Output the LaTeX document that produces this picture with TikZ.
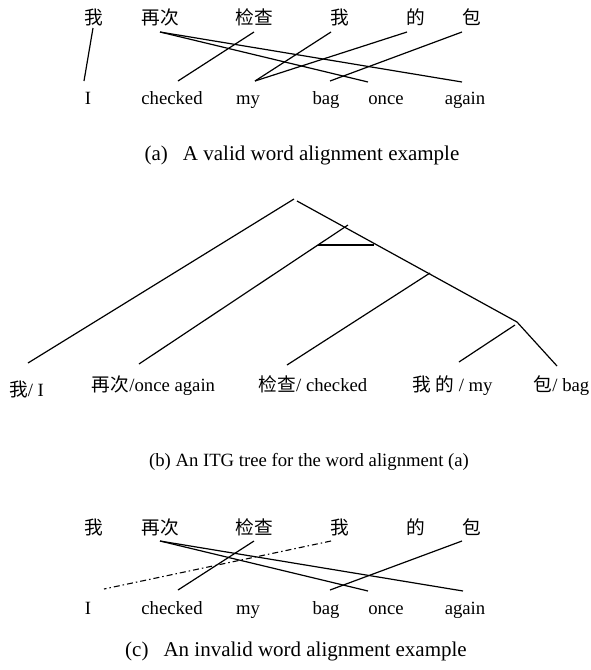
\documentclass[tikz,border=0pt]{standalone}
\usepackage{fontspec}
\setmainfont{Liberation Serif}
\newfontfamily\cjk{Noto Sans CJK SC}
\begin{document}
\begin{tikzpicture}[x=1pt,y=-1pt,
  zh/.style={font=\fontsize{18.7}{22}\selectfont\cjk, anchor=center, inner sep=0pt},
  en/.style={font=\fontsize{18.7}{22}\selectfont, anchor=base, inner sep=0pt},
  lbl/.style={font=\fontsize{18.7}{22}\selectfont, anchor=base, inner sep=0pt},
  capA/.style={font=\fontsize{21}{24}\selectfont, anchor=base, inner sep=0pt},
  capB/.style={font=\fontsize{18.7}{22}\selectfont, anchor=base, inner sep=0pt},
  link/.style={line width=1.2pt},
  badlink/.style={line width=1.1pt, dash pattern=on 6pt off 3pt on 1.5pt off 3pt}]
\useasboundingbox (0,0) rectangle (590,670);

% ---------- (a) ----------
\node[zh] (a1) at (94,17.5) {我};
\node[zh] (a2) at (160,17.5) {再次};
\node[zh] (a3) at (254,17.5) {检查};
\node[zh] (a4) at (340,17.5) {我};
\node[zh] (a5) at (416,17.5) {的};
\node[zh] (a6) at (472,17.5) {包};
\node[en] (e1) at (88,104) {I};
\node[en] (e2) at (172,104) {checked};
\node[en] (e3) at (248,104) {my};
\node[en] (e4) at (326,104) {bag};
\node[en] (e5) at (386,104) {once};
\node[en] (e6) at (465,104) {again};
\coordinate (a1s) at (93,28);  \coordinate (e1n) at (84,81);
\coordinate (a2s) at (160,32); \coordinate (e5n) at (368,82); \coordinate (e6n) at (462,82);
\coordinate (a3s) at (254,32); \coordinate (e2n) at (178,81);
\coordinate (a4s) at (331,32); \coordinate (e3n) at (255,81);
\coordinate (a5s) at (407,32);
\coordinate (a6s) at (462,32); \coordinate (e4n) at (330,81);
\draw[link] (a1s) -- (e1n);
\draw[link] (a2s) -- (e5n);
\draw[link] (a2s) -- (e6n);
\draw[link] (a3s) -- (e2n);
\draw[link] (a4s) -- (e3n);
\draw[link] (a5s) -- (e3n);
\draw[link] (a6s) -- (e4n);
\node[capA] (capa) at (302,160) {(a)\hspace{15pt}A valid word alignment example};

% ---------- (b) ----------
\coordinate (root) at (294,199);
\coordinate (rootR) at (297,201);
\coordinate (n3) at (517,322);
\coordinate (l1) at (28,363);
\coordinate (b2t) at (348,225); \coordinate (l2) at (139,364);
\coordinate (barL) at (318,245); \coordinate (barR) at (374,245);
\coordinate (b3t) at (430,273); \coordinate (l3) at (287,365);
\coordinate (b4t) at (515,325); \coordinate (l4) at (459,362);
\coordinate (l5) at (557,366);
\draw[link] (root) -- (l1);
\draw[link] (rootR) -- (n3);
\draw[link] (b2t) -- (l2);
\draw[line width=1.5pt] (barL) -- (barR);
\draw[link] (b3t) -- (l3);
\draw[link] (b4t) -- (l4);
\draw[link] (n3) -- (l5);
\node[lbl] (t1) at (26.5,396) {{\cjk 我}/ I};
\node[lbl] (t2) at (153.5,391) {{\cjk 再次}/once again};
\node[lbl] (t3) at (313,391) {{\cjk 检查}/ checked};
\node[lbl] (t4) at (452.5,391) {{\cjk 我\ 的}\ / my};
\node[lbl] (t5) at (561.5,391) {{\cjk 包}/ bag};
\node[capB] (capb) at (309,466) {(b) An ITG tree for the word alignment (a)};

% ---------- (c) ----------
\node[zh] (c1) at (94,527.5) {我};
\node[zh] (c2) at (160,527.5) {再次};
\node[zh] (c3) at (254,527.5) {检查};
\node[zh] (c4) at (340,527.5) {我};
\node[zh] (c5) at (416,527.5) {的};
\node[zh] (c6) at (472,527.5) {包};
\node[en] (f1) at (88,614) {I};
\node[en] (f2) at (172,614) {checked};
\node[en] (f3) at (248,614) {my};
\node[en] (f4) at (326,614) {bag};
\node[en] (f5) at (386,614) {once};
\node[en] (f6) at (465,614) {again};
\coordinate (c2s) at (160,541); \coordinate (f5n) at (368,591); \coordinate (f6n) at (463,591);
\coordinate (c3s) at (254,541); \coordinate (f2n) at (178,590);
\coordinate (c6s) at (462,541); \coordinate (f4n) at (330,590);
\coordinate (c4s) at (331,541); \coordinate (f1n) at (104,589);
\draw[link] (c2s) -- (f5n);
\draw[link] (c2s) -- (f6n);
\draw[link] (c3s) -- (f2n);
\draw[link] (c6s) -- (f4n);
\draw[badlink] (c4s) -- (f1n);
\node[capA] (capc) at (296,656) {(c)\hspace{15pt}An invalid word alignment example};
\end{tikzpicture}
\end{document}
